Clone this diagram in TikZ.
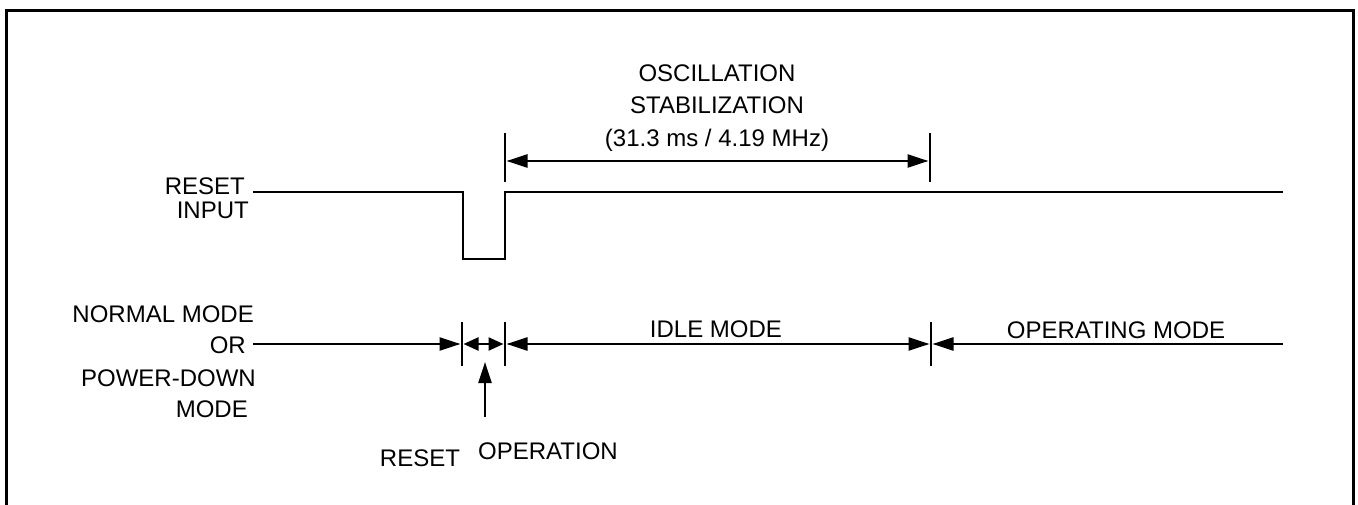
\documentclass[tikz,border=0pt]{standalone}
\usepackage{fontspec}
\setmainfont{Liberation Sans}
\usetikzlibrary{arrows.meta}
\tikzset{
  lbl/.style={font=\fontsize{24}{29}\selectfont, inner sep=0pt},
  sig/.style={line width=2.7pt},
  bar/.style={line width=2.4pt},
  dim/.style={line width=2.3pt, {Triangle[length=21pt,width=13pt]}-{Triangle[length=21pt,width=13pt]}},
  ptr/.style={line width=2.3pt, -{Triangle[length=21pt,width=13pt]}},
  ptrback/.style={line width=2.3pt, {Triangle[length=21pt,width=13pt]}-},
  small/.style={line width=2.3pt, {Triangle[length=15pt,width=13pt]}-{Triangle[length=15pt,width=13pt]}}
}
\begin{document}
\begin{tikzpicture}[x=1pt,y=-1pt]
\useasboundingbox (0,0) rectangle (1358,505);
\draw[line width=3pt] (6,505) -- (6,11) -- (1353,11) -- (1353,505);
\node[lbl,anchor=base east] (rstTxt) at (245,195) {RESET};
\node[lbl,anchor=base east] (inTxt) at (249,219) {INPUT};
\coordinate (inStart) at (253,192);
\coordinate (fall) at (463,192);
\coordinate (rise) at (505,192);
\coordinate (inEnd) at (1283,192);
\draw[sig] (inStart) -- (fall) -- ++(0,67) -| (rise) -- (inEnd);
\foreach \x in {505,930} \draw[bar] (\x,133) -- (\x,182);
\node[lbl,anchor=base] (osc1) at (717,82) {OSCILLATION};
\node[lbl,anchor=base] (osc2) at (717,114) {STABILIZATION};
\node[lbl,anchor=base] (osc3) at (717,147) {(31.3 ms / 4.19 MHz)};
\coordinate (oscL) at (506.5,161);
\coordinate (oscR) at (928.5,161);
\draw[dim] (oscL) -- (oscR);
\node[lbl,anchor=base east] (nm1) at (254,322) {NORMAL MODE};
\node[lbl,anchor=base east] (nm2) at (246,353) {OR};
\node[lbl,anchor=base east] (nm3) at (256,386) {POWER-DOWN};
\node[lbl,anchor=base east] (nm4) at (248,417) {MODE};
\foreach \x in {462,505,931} \draw[bar] (\x,322) -- (\x,366);
\coordinate (modeStart) at (253,344);
\coordinate (rstL) at (460.5,344);
\coordinate (rstR) at (463.5,344);
\coordinate (idleL) at (506.5,344);
\coordinate (opL) at (503.5,344);
\coordinate (idleR) at (929.5,344);
\coordinate (runL) at (932.5,344);
\coordinate (modeEnd) at (1283,344);
\draw[ptr] (modeStart) -- (rstL);
\draw[small] (rstR) -- (opL);
\draw[dim] (idleL) -- (idleR);
\draw[ptrback] (runL) -- (modeEnd);
\node[lbl,anchor=base] (idleTxt) at (716,337) {IDLE MODE};
\node[lbl,anchor=base] (runTxt) at (1116,338) {OPERATING MODE};
\coordinate (opFoot) at (485,417);
\coordinate (opHead) at (485,362);
\draw[ptr] (opFoot) -- (opHead);
\node[lbl,anchor=base] (rstOpTxt) at (420,466) {RESET};
\node[lbl,anchor=base] (opTxt) at (548,459) {OPERATION};
\end{tikzpicture}
\end{document}
